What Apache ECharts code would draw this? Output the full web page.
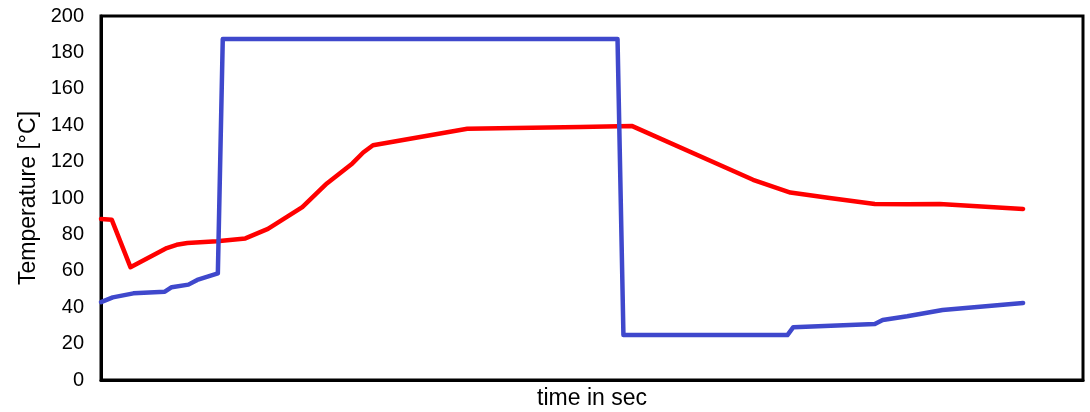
<!DOCTYPE html>
<html>
<head>
<meta charset="utf-8">
<script src="https://cdn.jsdelivr.net/npm/echarts@6/dist/echarts.min.js"></script>
<style>
  html, body { margin: 0; padding: 0; background: #fff; }
  #chart { width: 1090px; height: 412px; }
</style>
</head>
<body>
<div id="chart"></div>
<script>
// time (arbitrary seconds scale) and temperatures
var redTime = [0, 11, 30, 67, 77, 88, 118, 147, 170, 205, 230, 256, 267, 277, 373, 488, 541, 664, 702, 742, 788, 821, 854, 939];
var redTemp = [88.5, 88, 62, 72.5, 74.3, 75.3, 76.2, 77.8, 83, 95, 108, 119, 125, 129, 138, 139, 139.5, 110, 103, 100, 96.7, 96.5, 96.7, 94];

var blueTime = [0, 12, 33, 65, 72, 89, 98, 119, 124, 526, 532, 699, 705, 788, 796, 821, 857, 939];
var blueTemp = [42.8, 45.4, 47.6, 48.5, 51, 52.4, 55, 58.6, 187.4, 187.4, 24.7, 24.7, 29, 30.8, 33, 35, 38.5, 42.3];

var yTicks = [0, 20, 40, 60, 80, 100, 120, 140, 160, 180, 200];

function pairs(xs, ys) {
    return xs.map(function (x, i) { return [x, ys[i]]; });
}

var myChart = echarts.init(document.getElementById('chart'));
var option = {
    animation: false,
    grid: {
        left: 101,
        right: 7,
        top: 16,
        bottom: 32,
        outerBoundsMode: 'none',
        containLabel: false,
        show: true,
        borderColor: '#000',
        borderWidth: 3
    },
    xAxis: {
        type: 'value',
        min: 0,
        max: 1000,
        name: 'time in sec',
        nameLocation: 'middle',
        nameGap: 7,
        nameTextStyle: { fontFamily: 'Liberation Sans', fontSize: 23, color: '#000' },
        axisLine: { show: true, onZero: false, lineStyle: { color: '#000', width: 3 } },
        axisTick: { show: false },
        axisLabel: { show: false },
        splitLine: { show: false }
    },
    yAxis: {
        type: 'value',
        min: yTicks[0],
        max: yTicks[yTicks.length - 1],
        interval: 20,
        name: 'Temperature [°C]',
        nameLocation: 'middle',
        nameGap: 61,
        nameTextStyle: { fontFamily: 'Liberation Sans', fontSize: 23, color: '#000' },
        axisLine: { show: true, lineStyle: { color: '#000', width: 3 } },
        axisTick: { show: false },
        axisLabel: { fontFamily: 'Liberation Sans', fontSize: 20, color: '#000', margin: 17 },
        splitLine: { show: false }
    },
    series: [
        {
            type: 'line',
            data: pairs(redTime, redTemp),
            showSymbol: false,
            lineStyle: { color: '#ff0000', width: 4.5, join: 'round', cap: 'round' },
            z: 2
        },
        {
            type: 'line',
            data: pairs(blueTime, blueTemp),
            showSymbol: false,
            lineStyle: { color: '#3f48cc', width: 4.5, join: 'round', cap: 'round' },
            z: 3
        }
    ]
};
option && myChart.setOption(option);
</script>
</body>
</html>
